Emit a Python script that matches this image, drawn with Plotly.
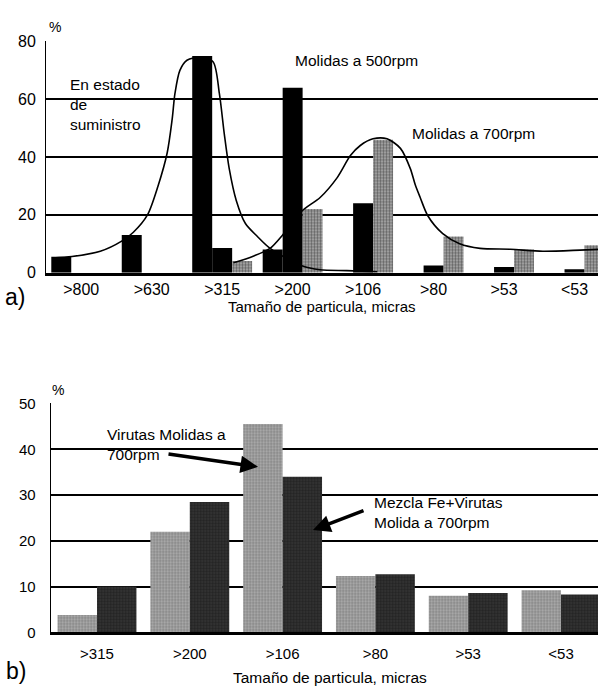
import plotly.graph_objects as go

# ---------- data: chart a) ----------
cats_a = [">800", ">630", ">315", ">200", ">106", ">80", ">53", "<53"]
suministro = [5.5, 13, 75, 8, 0, 0, 0, 0]
molidas500 = [0, 0, 8.5, 64, 24, 2.5, 2, 1.2]
molidas700 = [0, 0, 4, 22, 46, 12.5, 8, 9.5]

# smoothed curves (x in category units, y in %)
curve1_x = [-0.41, -0.13, 0.27, 0.58, 0.74, 0.94, 1.09, 1.22, 1.29, 1.33, 1.40, 1.50,
            1.69, 1.87, 1.96, 2.03, 2.10, 2.20, 2.33, 2.50, 2.68, 3.13, 3.39, 3.77, 4.20]
curve1_y = [5.1, 5.6, 7.4, 11, 14, 20, 30, 41.5, 53, 62, 70, 73.5,
            74.5, 73, 62, 48, 36, 25, 17, 12.5, 8.4, 2.4, 1.0, 0.7, 0.3]
curve2_x = [2.16, 2.44, 2.68, 2.85, 3.13, 3.39, 3.63, 3.82, 3.96, 4.14, 4.34, 4.53,
            4.67, 4.74, 4.81, 4.92, 5.13, 5.37, 5.66, 6.09, 6.55, 7.08, 7.36]
curve2_y = [3.4, 5.7, 8.4, 12.8, 21.3, 26, 32.8, 40.5, 44, 46.3, 46.3, 43,
            36, 30.4, 26, 19.6, 13.5, 10, 8.4, 8.1, 7.4, 7.8, 8.1]

# ---------- data: chart b) ----------
cats_b = [">315", ">200", ">106", ">80", ">53", "<53"]
virutas700 = [3.8, 22, 45.5, 12.3, 8, 9.2]
mezcla700 = [10, 28.5, 34, 12.7, 8.6, 8.3]

W, H = 598, 693
FONT = "Arial, Liberation Sans, sans-serif"

def py(p):  # pixel row -> paper y
    return 1 - p / H

def px(p):
    return p / W

fig = go.Figure()

# chart a) bars
fig.add_bar(x=list(range(len(cats_a))), y=suministro, marker=dict(color="black", line=dict(width=0)),
            xaxis="x", yaxis="y", name="En estado de suministro")
fig.add_bar(x=list(range(len(cats_a))), y=molidas500, marker=dict(color="black", line=dict(width=0)),
            xaxis="x", yaxis="y", name="Molidas a 500rpm")
fig.add_bar(x=list(range(len(cats_a))), y=molidas700,
            marker=dict(color="#8a8a8a", line=dict(width=0),
                        pattern=dict(shape=".", fgcolor="#111111", bgcolor="#b0b0b0", size=3, solidity=0.5)),
            xaxis="x", yaxis="y", name="Molidas a 700rpm")
fig.add_scatter(x=curve1_x, y=curve1_y, mode="lines", line=dict(color="black", width=1.6, shape="spline", smoothing=0.8),
                xaxis="x", yaxis="y", hoverinfo="skip")
fig.add_scatter(x=curve2_x, y=curve2_y, mode="lines", line=dict(color="black", width=1.6, shape="spline", smoothing=0.8),
                xaxis="x", yaxis="y", hoverinfo="skip")

# chart b) bars
fig.add_bar(x=list(range(len(cats_b))), y=virutas700,
            marker=dict(color="#9c9c9c", line=dict(width=0),
                        pattern=dict(shape=".", fgcolor="#4a4a4a", bgcolor="#b0b0b0", size=3, solidity=0.45)),
            xaxis="x2", yaxis="y2", name="Virutas Molidas a 700rpm")
fig.add_bar(x=list(range(len(cats_b))), y=mezcla700,
            marker=dict(color="#2e2e2e", line=dict(width=0),
                        pattern=dict(shape=".", fgcolor="#5a5a5a", bgcolor="#222222", size=3, solidity=0.35)),
            xaxis="x2", yaxis="y2", name="Mezcla Fe+Virutas Molida a 700rpm")

# geometry
a_left, a_right_full, a_step = 46, 609.75, 70.5
b_left, b_right_full, b_step = 50.6, 607.4, 92.8
a_top, a_bot = 33.3, 270.7
b_top, b_bot = 405, 640

fig.update_layout(
    width=W, height=H, margin=dict(l=0, r=0, t=0, b=0),
    paper_bgcolor="white", plot_bgcolor="white",
    showlegend=False, barmode="group", bargap=0.15, bargroupgap=0,
    font=dict(family=FONT, color="black", size=15),
    xaxis=dict(domain=[px(a_left), 1], range=[-0.5, 7.5 - (a_right_full - W) / a_step],
               tickmode="array", tickvals=list(range(len(cats_a))), ticktext=cats_a,
               showgrid=False, zeroline=False, showline=True, linecolor="black", linewidth=3,
               ticks="", tickfont=dict(size=16), anchor="y"),
    yaxis=dict(domain=[py(a_bot), py(a_top)], range=[0, 80], dtick=20,
               showgrid=True, gridcolor="black", gridwidth=2, zeroline=False,
               showline=True, linecolor="black", linewidth=1,
               ticks="outside", ticklen=6, tickcolor="rgba(0,0,0,0)",
               tickfont=dict(size=16), anchor="x"),
    xaxis2=dict(domain=[px(b_left), 1], range=[-0.5, 5.5 - (b_right_full - W) / b_step],
                tickmode="array", tickvals=list(range(len(cats_b))), ticktext=cats_b,
                showgrid=False, zeroline=False, showline=True, linecolor="black", linewidth=3,
                ticks="outside", ticklen=6, tickcolor="rgba(0,0,0,0)",
                tickfont=dict(size=15), anchor="y2"),
    yaxis2=dict(domain=[py(b_bot), py(b_top)], range=[0, 50], dtick=10,
                showgrid=True, gridcolor="black", gridwidth=2, zeroline=False,
                showline=True, linecolor="black", linewidth=1,
                ticks="outside", ticklen=11, tickcolor="rgba(0,0,0,0)",
                tickfont=dict(size=15), anchor="x2"),
)

ann = []
def text(x, y, s, size=15.5, xanchor="left", yanchor="middle", align="left"):
    ann.append(dict(x=px(x), y=py(y), xref="paper", yref="paper", text=s, showarrow=False,
                    xanchor=xanchor, yanchor=yanchor, align=align, font=dict(size=size)))

text(47, 18, "%", size=14)
text(50, 391, "%", size=14)
text(68, 98.5, "En estado<br>de<br>suministro", size=15.5)
text(293, 53, "Molidas a 500rpm", size=15.5)
text(410, 128, "Molidas a 700rpm", size=15.5)
text(3, 296, "a)", size=23)
text(4, 680, "b)", size=23)
text(322, 305, "Tamaño de particula, micras", size=15, xanchor="center")
text(330, 686, "Tamaño de particula, micras", size=15.5, xanchor="center")
text(105, 447.5, "Virutas Molidas a<br>700rpm", size=15.5)
text(372, 516.5, "Mezcla Fe+Virutas<br>Molida a 700rpm", size=15.5)

# arrows
def arrow(tx, ty, hx, hy):
    ann.append(dict(x=px(hx), y=py(hy), xref="paper", yref="paper", ax=tx - hx, ay=ty - hy,
                    axref="pixel", ayref="pixel", text="", showarrow=True,
                    arrowhead=2, arrowsize=1, arrowwidth=3.5, arrowcolor="black", standoff=0))

arrow(167, 457, 258, 470)
arrow(365, 515, 313, 535)

fig.update_layout(annotations=ann)
fig.write_html("out.html", config={"displayModeBar": False},
               post_script="document.body.style.margin='0px';document.body.style.overflow='hidden';")
